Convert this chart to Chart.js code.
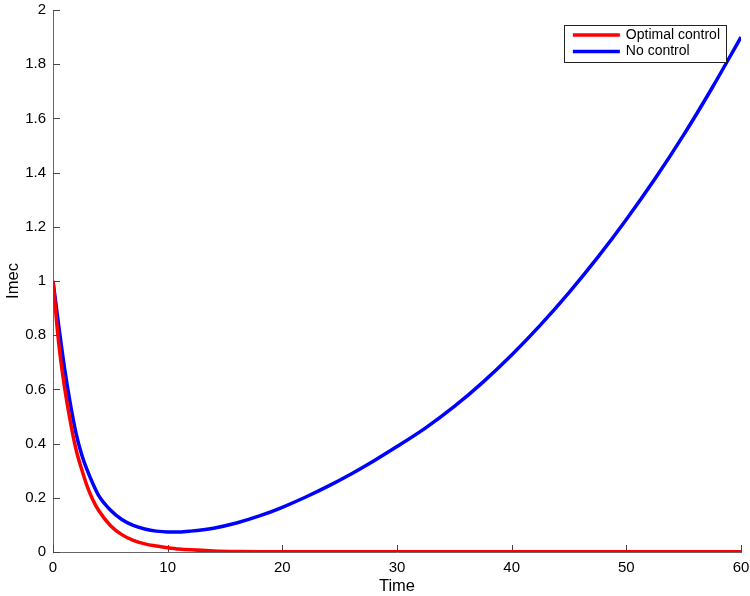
<!DOCTYPE html>
<html>
<head>
<meta charset="utf-8">
<script src="https://cdn.jsdelivr.net/npm/chart.js@4"></script>
<style>
  body { margin: 0; background: #fff; }
  #wrap { width: 750px; height: 596px; }
</style>
</head>
<body>
<div id="wrap"><canvas id="myChart" width="750" height="596"></canvas></div>
<script>
const time = [0, 0.5, 1, 1.5, 2, 2.5, 3, 3.5, 4, 5, 6, 7, 8, 9, 10, 11, 12, 14, 16, 18, 20, 22, 24, 26, 28, 30, 32.5, 35, 37.5, 40, 42.5, 45, 47.5, 50, 52.5, 55, 57.5, 60];

const optimalControl = [1, 0.77, 0.61, 0.485, 0.38, 0.305, 0.24, 0.19, 0.152, 0.098, 0.064, 0.043, 0.03, 0.022, 0.016, 0.011, 0.008, 0.004, 0.002, 0.0012, 0.001, 0.001, 0.001, 0.001, 0.001, 0.001, 0.001, 0.001, 0.001, 0.001, 0.001, 0.001, 0.001, 0.001, 0.001, 0.001, 0.001, 0.001];

const noControl = [1, 0.835, 0.68, 0.55, 0.44, 0.36, 0.3, 0.25, 0.207, 0.155, 0.12, 0.098, 0.085, 0.077, 0.074, 0.074, 0.077, 0.088, 0.107, 0.133, 0.165, 0.202, 0.243, 0.288, 0.337, 0.389, 0.458, 0.537, 0.627, 0.727, 0.837, 0.957, 1.087, 1.227, 1.377, 1.539, 1.714, 1.9];

const xTicks = [0, 10, 20, 30, 40, 50, 60];
const yTicks = [0, 0.2, 0.4, 0.6, 0.8, 1, 1.2, 1.4, 1.6, 1.8, 2];
const yTickLabels = ['0', '0.2', '0.4', '0.6', '0.8', '1', '1.2', '1.4', '1.6', '1.8', '2'];

const FONT = 'Liberation Sans, Arial, Helvetica, sans-serif';

function toPoints(values) {
    return time.map((t, i) => ({ x: t, y: values[i] }));
}

// matlab style ticks pointing into the plot
const innerTicks = {
    id: 'innerTicks',
    beforeDatasetsDraw(chart) {
        const ctx = chart.ctx;
        const area = chart.chartArea;
        const xs = chart.scales.x;
        const ys = chart.scales.y;
        const len = 7;
        ctx.save();
        ctx.strokeStyle = '#444';
        ctx.lineWidth = 1;
        ctx.beginPath();
        for (const v of xTicks) {
            const px = Math.round(xs.getPixelForValue(v)) + 0.5;
            ctx.moveTo(px, area.bottom);
            ctx.lineTo(px, area.bottom - len);
        }
        for (const v of yTicks) {
            const py = Math.round(ys.getPixelForValue(v)) + 0.5;
            ctx.moveTo(area.left, py);
            ctx.lineTo(area.left + len, py);
        }
        ctx.stroke();
        ctx.restore();
    }
};

// boxed legend in the top right corner
const boxLegend = {
    id: 'boxLegend',
    afterDraw(chart) {
        const ctx = chart.ctx;
        const area = chart.chartArea;
        const sets = chart.data.datasets;
        ctx.save();
        ctx.font = '14px ' + FONT;
        let textW = 0;
        for (const ds of sets) {
            textW = Math.max(textW, ctx.measureText(ds.label).width);
        }
        const w = 62 + textW + 6;
        const h = 37;
        const right = area.right - 15;
        const top = area.top + 15;
        const left = right - w;
        ctx.fillStyle = '#fff';
        ctx.fillRect(left, top, w, h);
        ctx.strokeStyle = '#222';
        ctx.lineWidth = 1;
        ctx.strokeRect(Math.round(left) + 0.5, top + 0.5, Math.round(w), h);
        sets.forEach((ds, i) => {
            const y = top + 10 + i * 16.5;
            ctx.strokeStyle = ds.borderColor;
            ctx.lineWidth = 3.5;
            ctx.beginPath();
            ctx.moveTo(left + 9, y);
            ctx.lineTo(left + 56, y);
            ctx.stroke();
            ctx.fillStyle = '#000';
            ctx.textBaseline = 'middle';
            ctx.fillText(ds.label, left + 62, y);
        });
        ctx.restore();
    }
};

function noPad(s) {
    s.paddingTop = 0;
    s.paddingBottom = 0;
    s.paddingLeft = 0;
    s.paddingRight = 0;
}

const ctx = document.getElementById('myChart').getContext('2d');
const myChart = new Chart(ctx, {
    type: 'line',
    data: {
        datasets: [{
            label: 'Optimal control',
            data: toPoints(optimalControl),
            borderColor: '#ff0000',
            borderWidth: 3.5,
            pointRadius: 0,
            cubicInterpolationMode: 'monotone',
            fill: false
        }, {
            label: 'No control',
            data: toPoints(noControl),
            borderColor: '#0000ff',
            borderWidth: 3.5,
            pointRadius: 0,
            cubicInterpolationMode: 'monotone',
            fill: false
        }]
    },
    options: {
        responsive: false,
        animation: false,
        layout: { padding: { top: 10, right: 9, left: 0, bottom: 0 } },
        plugins: {
            legend: { display: false },
            tooltip: { enabled: false }
        },
        scales: {
            x: {
                type: 'linear',
                min: 0,
                max: 60,
                afterBuildTicks: s => { s.ticks = xTicks.map(v => ({ value: v })); },
                afterFit: s => { s.height = 44; noPad(s); },
                grid: { display: true, drawOnChartArea: false, drawTicks: false },
                border: { display: true, color: '#666', width: 1 },
                ticks: { color: '#000', padding: 7, maxRotation: 0, font: { family: FONT, size: 15 } },
                title: { display: true, text: 'Time', color: '#000', padding: { top: 0, bottom: 0 }, font: { family: FONT, size: 16.5 } }
            },
            y: {
                type: 'linear',
                min: 0,
                max: 2,
                afterBuildTicks: s => { s.ticks = yTicks.map(v => ({ value: v })); },
                afterFit: s => { s.width = 53; noPad(s); },
                grid: { display: true, drawOnChartArea: false, drawTicks: false },
                border: { display: true, color: '#666', width: 1 },
                ticks: {
                    color: '#000',
                    padding: 7,
                    font: { family: FONT, size: 15 },
                    callback: (v, i) => yTickLabels[i]
                },
                title: { display: true, text: 'Imec', color: '#000', padding: { top: 4, bottom: 0 }, font: { family: FONT, size: 16.5 } }
            }
        }
    },
    plugins: [innerTicks, boxLegend]
});
</script>
</body>
</html>
